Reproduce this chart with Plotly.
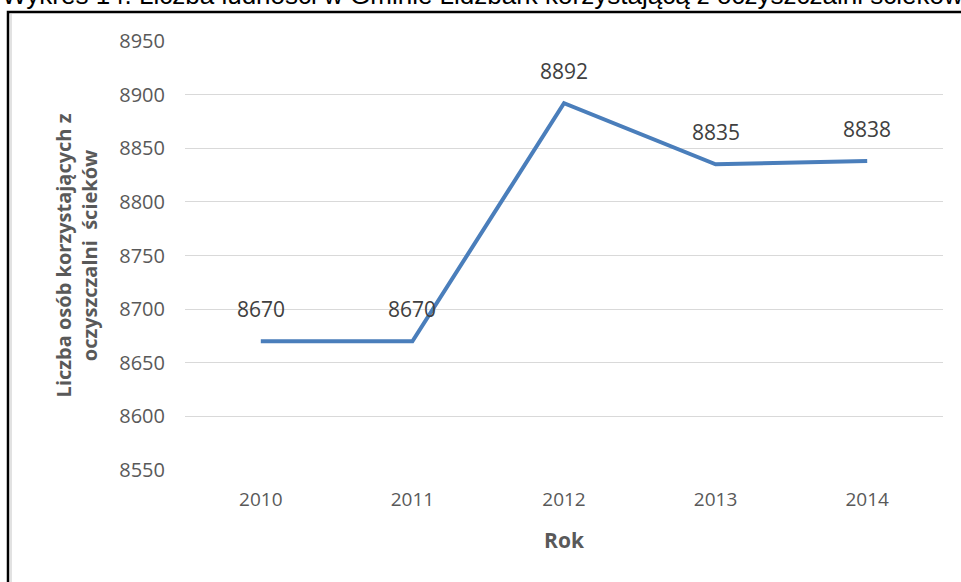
import plotly.graph_objects as go

years = ["2010", "2011", "2012", "2013", "2014"]
values = [8670, 8670, 8892, 8835, 8838]
y_ticks = [8550, 8600, 8650, 8700, 8750, 8800, 8850, 8900, 8950]
title_text = "Wykres 14. Liczba ludności w Gminie Lidzbark korzystającą z oczyszczalni ścieków"

L, R, T, B = 185, 18, 41, 112
W, H = 961, 582
pw, ph = W - L - R, H - T - B

def px_x(p):
    return (p - L) / pw

def px_y(p):
    return (H - B - p) / ph

fig = go.Figure()
fig.add_trace(go.Scatter(
    x=years, y=values, mode="lines",
    line=dict(color="#4A7EBB", width=4),
    hoverinfo="x+y", showlegend=False,
))

annotations = []
for i, yv in enumerate(values):
    annotations.append(dict(
        x=i, y=yv, xref="x", yref="y", text=str(yv), showarrow=False,
        yanchor="bottom", yshift=16,
        font=dict(family="Open Sans", size=21, color="#404040"),
    ))

annotations.append(dict(
    x=px_x(0), y=px_y(12), xref="paper", yref="paper", xanchor="left", yanchor="bottom",
    text=title_text,
    showarrow=False, font=dict(family="Arial", size=26, color="#000000"),
))

fig.update_layout(
    width=W, height=H,
    margin=dict(l=L, r=R, t=T, b=B),
    paper_bgcolor="white", plot_bgcolor="white",
    annotations=annotations,
    xaxis=dict(
        type="category", range=[-0.5, 4.5],
        showgrid=False, showline=False, zeroline=False, ticks="",
        tickfont=dict(family="Open Sans", size=19, color="#595959"),
        ticklabelstandoff=16,
        title=dict(text="<b>Rok</b>", font=dict(family="Open Sans", size=21, color="#595959"), standoff=22),
    ),
    yaxis=dict(
        range=[8550, 8950], tickvals=y_ticks,
        showgrid=True, gridcolor="#D9D9D9", gridwidth=1,
        showline=False, zeroline=False, ticks="",
        tickfont=dict(family="Open Sans", size=20, color="#595959"),
        ticklabelstandoff=19,
        title=dict(text="<b>Liczba osób korzystających z<br>oczyszczalni  ścieków</b>",
                   font=dict(family="Open Sans", size=20, color="#595959"), standoff=16),
    ),
    shapes=[
        dict(type="rect", xref="paper", yref="paper",
             x0=px_x(8), x1=px_x(990), y0=px_y(620), y1=px_y(12),
             line=dict(color="black", width=2.5), layer="below"),
        dict(type="line", xref="paper", yref="paper",
             x0=px_x(11), x1=px_x(11), y0=px_y(620), y1=px_y(14),
             line=dict(color="#D9D9D9", width=1.5), layer="below"),
    ],
)

fig.write_html(
    "out.html",
    config={"displayModeBar": False},
    post_script="document.body.style.margin='0';document.body.style.overflow='hidden';",
)
